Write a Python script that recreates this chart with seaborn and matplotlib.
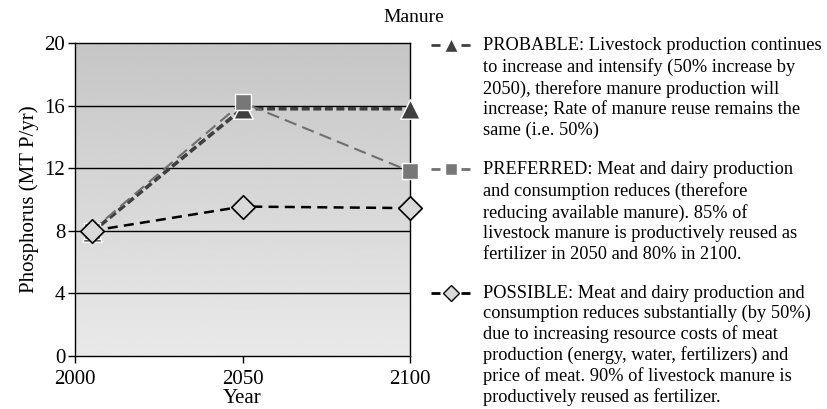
import numpy as np
import pandas as pd
import matplotlib
matplotlib.use("Agg")
import matplotlib.pyplot as plt
import seaborn as sns
from matplotlib.lines import Line2D

years = [2005, 2050, 2100]
probable = [7.9, 15.8, 15.8]
preferred = [8.0, 16.2, 11.8]
possible = [8.0, 9.55, 9.45]
x_ticks = [2000, 2050, 2100]
y_ticks = [0, 4, 8, 12, 16, 20]

probable_label = ("PROBABLE: Livestock production continues\n"
                  "to increase and intensify (50% increase by\n"
                  "2050), therefore manure production will\n"
                  "increase; Rate of manure reuse remains the\n"
                  "same (i.e. 50%)")
preferred_label = ("PREFERRED: Meat and dairy production\n"
                   "and consumption reduces (therefore\n"
                   "reducing available manure). 85% of\n"
                   "livestock manure is productively reused as\n"
                   "fertilizer in 2050 and 80% in 2100.")
possible_label = ("POSSIBLE: Meat and dairy production and\n"
                  "consumption reduces substantially (by 50%)\n"
                  "due to increasing resource costs of meat\n"
                  "production (energy, water, fertilizers) and\n"
                  "price of meat. 90% of livestock manure is\n"
                  "productively reused as fertilizer.")

sns.set_theme(style="white")
plt.rcParams["font.family"] = ["Liberation Serif", "DejaVu Serif"]

W, H = 827, 409
fig = plt.figure(figsize=(W / 100, H / 100), dpi=100)
ax = fig.add_axes([75 / W, 1 - 356 / H, (410 - 75) / W, (356 - 43) / H])

# gradient background
grad = np.linspace(0.775, 0.915, 256).reshape(-1, 1)
ax.imshow(grad, extent=[2000, 2100, 0, 20], aspect="auto", cmap="gray",
          vmin=0, vmax=1, zorder=0, interpolation="bicubic")

for yv in y_ticks[1:-1]:
    ax.axhline(yv, color="black", lw=1.0, zorder=1)

df = pd.DataFrame({"Year": years, "PROBABLE": probable,
                   "PREFERRED": preferred, "POSSIBLE": possible})

styles = {
    "PROBABLE": dict(color="#3f3f3f", lw=2.6, dash=(2.2, 1.0), marker="^",
                     ms=14, mfc="#3f3f3f", mec="white", mew=1.0, lms=10),
    "PREFERRED": dict(color="#6f6f6f", lw=1.5, dash=(6, 3), marker="s",
                      ms=12, mfc="#777777", mec="white", mew=1.0, lms=9),
    "POSSIBLE": dict(color="black", lw=1.8, dash=(4, 2.5), marker="D",
                     ms=12, mfc="#d9d9d9", mec="black", mew=1.2, lms=8.3),
}

for name in ["POSSIBLE", "PROBABLE", "PREFERRED"]:
    s = styles[name]
    sns.lineplot(data=df, x="Year", y=name, ax=ax, color=s["color"],
                 lw=s["lw"], marker=None, zorder=2)
    ax.lines[-1].set_dashes(s["dash"])
for name in ["PROBABLE", "PREFERRED", "POSSIBLE"]:
    s = styles[name]
    sns.scatterplot(data=df, x="Year", y=name, ax=ax, marker=s["marker"],
                    s=s["ms"] ** 2, color=s["mfc"], edgecolor=s["mec"],
                    linewidth=s["mew"], zorder=3)
    ax.collections[-1].set_clip_on(False)

ax.set_xlim(2000, 2100)
ax.set_ylim(0, 20)
ax.set_xticks(x_ticks)
ax.set_yticks(y_ticks)
ax.tick_params(axis="both", which="both", direction="out", length=5,
               width=1, color="black", labelsize=15, labelcolor="black",
               left=True, bottom=True, pad=2)
ax.tick_params(axis="x", pad=5)
for sp in ax.spines.values():
    sp.set_visible(True)
    sp.set_color("black")
    sp.set_linewidth(1.0)
ax.set_xlabel("Year", fontsize=15, color="black", labelpad=0)
ax.set_ylabel("Phosphorus (MT P/yr)", fontsize=15, color="black", labelpad=4)

fig.text(0.5, 1 - 18 / H, "Manure", ha="center", va="center", fontsize=14,
         color="black")

# legend
entries = [("PROBABLE", probable_label, 45, 1.28),
           ("PREFERRED", preferred_label, 169, 1.28),
           ("POSSIBLE", possible_label, 293, 1.22)]
for name, label, ypx, lsp in entries:
    s = styles[name]
    yf = 1 - ypx / H
    fig.add_artist(Line2D([431 / W, 470 / W], [yf, yf], transform=fig.transFigure,
                          color=s["color"], lw=2.0, dashes=(3.24, 7.56)))
    fig.add_artist(Line2D([450.5 / W], [yf], transform=fig.transFigure,
                          marker=s["marker"], ms=s["lms"],
                          mfc=s["mfc"], mec=s["mec"], mew=1.0, ls="none"))
    fig.text(483 / W, 1 - (ypx - 8) / H, label, ha="left", va="top",
             fontsize=13.2, color="black", linespacing=lsp)

fig.savefig("out.png", dpi=100)
